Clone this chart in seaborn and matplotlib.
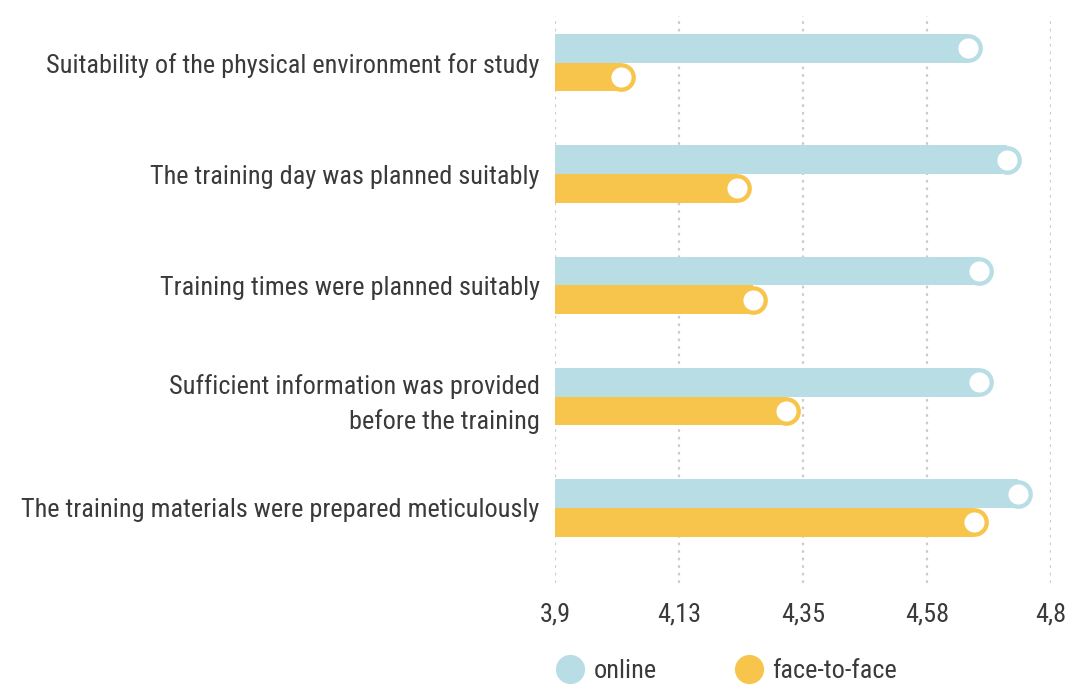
import pandas as pd
import matplotlib
matplotlib.use("Agg")
import matplotlib.pyplot as plt
import seaborn as sns
from matplotlib import font_manager
from matplotlib.lines import Line2D

# chart data
categories = [
    "Suitability of the physical environment for study",
    "The training day was planned suitably",
    "Training times were planned suitably",
    "Sufficient information was provided\nbefore the training",
    "The training materials were prepared meticulously",
]
online = [4.65, 4.72, 4.67, 4.67, 4.74]
face_to_face = [4.02, 4.23, 4.26, 4.32, 4.66]
series_names = ["online", "face-to-face"]
tick_values = [3.9, 4.125, 4.35, 4.575, 4.8]
tick_labels = ["3,9", "4,13", "4,35", "4,58", "4,8"]

colors = {"online": "#b8dde4", "face-to-face": "#f8c54c"}
text_color = "#3a3a3a"

df = pd.DataFrame({
    "item": categories * 2,
    "score": online + face_to_face,
    "mode": [series_names[0]] * len(categories) + [series_names[1]] * len(categories),
})

sns.set_theme(style="white")

# pick the narrowest font we can find
installed = {f.name for f in font_manager.fontManager.ttflist}
font, stretch = "Roboto", "normal"
for cand in ["Roboto Condensed", "DejaVu Sans Condensed", "Liberation Sans Narrow", "Open Sans Condensed"]:
    if cand in installed:
        font = cand
        break
else:
    if any(f.name == "DejaVu Sans" and f.stretch == "condensed" for f in font_manager.fontManager.ttflist):
        font, stretch = "DejaVu Sans", "condensed"
plt.rcParams["font.family"] = [font, "DejaVu Sans"]
plt.rcParams["font.stretch"] = stretch

fig = plt.figure(figsize=(10.68, 6.86), dpi=100)

# scale text so the longest label fills the same width as in the original (~492 px)
probe = fig.text(0, 0, categories[0], fontsize=17)
fig.canvas.draw()
fs = 17 * 492 / probe.get_window_extent().width
probe.remove()

ax = fig.add_axes([555 / 1068, 1 - 583 / 686, (1051 - 555) / 1068, (583 - 16) / 686])

bar_w = 0.516
sns.barplot(data=df, y="item", x="score", hue="mode", order=categories,
            hue_order=series_names, palette=colors, width=bar_w, orient="h",
            saturation=1, errorbar=None, linewidth=0, legend=False, ax=ax)

ax.set_xlim(3.9, 4.8)
ax.set_ylim(4.674, -0.42)

# rounded end caps + white dots
fig.canvas.draw()
px_per_unit = abs(ax.transData.transform((0, 0))[1] - ax.transData.transform((0, 1))[1])
bar_pt = px_per_unit * bar_w / 2 * 72 / fig.dpi
for k, (name, vals) in enumerate(zip(series_names, [online, face_to_face])):
    ys = [i + (k - 0.5) * bar_w / 2 for i in range(len(categories))]
    ax.scatter(vals, ys, s=bar_pt ** 2, color=colors[name], linewidths=0, zorder=3)
    ax.scatter(vals, ys, s=(bar_pt * 0.7) ** 2, color="white", linewidths=0, zorder=4)

ax.set_xticks(tick_values)
ax.set_xticklabels(tick_labels)
ax.set_yticks(range(len(categories)))
ax.set_yticklabels(categories, linespacing=1.5)
ax.set_xlabel("")
ax.set_ylabel("")
ax.tick_params(axis="x", length=0, pad=14, labelsize=fs, labelcolor=text_color)
ax.tick_params(axis="y", length=0, pad=11, labelsize=fs, labelcolor=text_color)
ax.xaxis.grid(True, linestyle=(0, (1.2, 2.2)), color="#cccccc", linewidth=1.6)
ax.yaxis.grid(False)
ax.set_axisbelow(True)
for s in ax.spines.values():
    s.set_visible(False)

handles = [Line2D([], [], marker="o", linestyle="", markersize=21,
                  markerfacecolor=colors[n], markeredgewidth=0) for n in series_names]
fig.legend(handles, series_names, loc="center left", bbox_to_anchor=(544 / 1068, 15 / 686),
           ncol=2, frameon=False, fontsize=fs, handletextpad=0.3, columnspacing=2.9,
           labelcolor=text_color, borderaxespad=0, handlelength=1.2)

fig.savefig("out.png", dpi=100)
